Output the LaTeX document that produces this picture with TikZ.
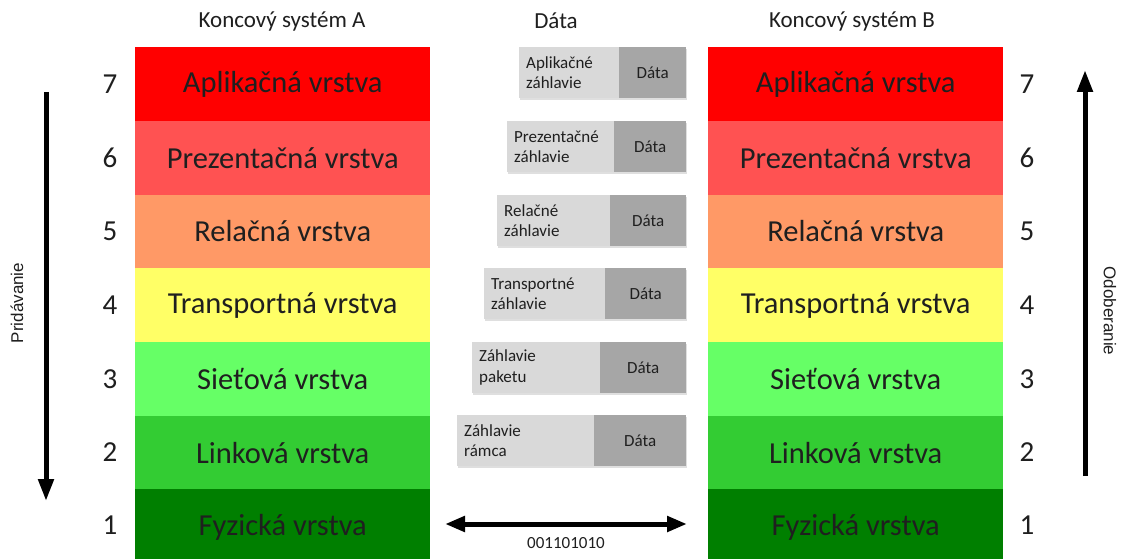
\documentclass[tikz,border=0pt]{standalone}
\usepackage{fontspec}
\setmainfont{Carlito}
\newfontfamily\sidefont{Liberation Sans}
\usetikzlibrary{arrows.meta,shadows}
\definecolor{c7}{HTML}{FF0000}
\definecolor{c6}{HTML}{FF5252}
\definecolor{c5}{HTML}{FF9966}
\definecolor{c4}{HTML}{FFFF66}
\definecolor{c3}{HTML}{66FF66}
\definecolor{c2}{HTML}{33CC33}
\definecolor{c1}{HTML}{007F00}
\definecolor{hlight}{HTML}{D9D9D9}
\definecolor{hdark}{HTML}{A6A6A6}
\definecolor{txt}{HTML}{1F1F1F}
\tikzset{
  layer/.style={minimum width=295pt, minimum height=73.7pt, inner sep=0pt, anchor=north west, font=\fontsize{30.5}{34}\selectfont, text=txt},
  num/.style={font=\fontsize{29}{33}\selectfont, text=txt},
  title/.style={font=\fontsize{23}{27}\selectfont, text=txt},
  hlightbox/.style={fill=hlight, anchor=north west, minimum height=51pt, inner xsep=7pt, inner ysep=0pt, align=left, font=\fontsize{17}{20.5}\selectfont, text=txt, drop shadow={opacity=0.25, shadow xshift=1pt, shadow yshift=-1.5pt}},
  hdarkbox/.style={fill=hdark, anchor=north west, minimum height=51pt, inner sep=0pt, font=\fontsize{17}{20}\selectfont, text=txt, drop shadow={opacity=0.25, shadow xshift=1pt, shadow yshift=-1.5pt}},
  sidelabel/.style={font=\sidefont\fontsize{17}{20}\selectfont, text=txt},
  bitlabel/.style={font=\fontsize{17}{20}\selectfont, text=txt},
  bigarrow/.style={line width=5pt, -{Triangle[length=22pt, width=15pt]}},
  dblarrow/.style={line width=5pt, {Triangle[length=20pt, width=15pt]}-{Triangle[length=20pt, width=15pt]}}
}
\begin{document}
\begin{tikzpicture}[x=1pt, y=-1pt]
\useasboundingbox (0,0) rectangle (1122,559);
\fill[white] (0,0) rectangle (1122,559);
% titles
\node[title] (tA) at (282,21) {Koncový systém A};
\node[title] (tD) at (556,21) {Dáta};
\node[title] (tB) at (852,21) {Koncový systém B};
% left stack
\node[layer, fill=c7] (L7) at (135,47) {Aplikačná vrstva};
\node[layer, fill=c6] (L6) at (135,120.7) {Prezentačná vrstva};
\node[layer, fill=c5] (L5) at (135,194.4) {Relačná vrstva};
\node[layer, fill=c4] (L4) at (135,268.1) {Transportná vrstva};
\node[layer, fill=c3] (L3) at (135,341.8) {Sieťová vrstva};
\node[layer, fill=c2] (L2) at (135,415.5) {Linková vrstva};
\node[layer, fill=c1, minimum height=75pt] (L1) at (135,489.2) {Fyzická vrstva};
% right stack
\node[layer, fill=c7] (R7) at (708,47) {Aplikačná vrstva};
\node[layer, fill=c6] (R6) at (708,120.7) {Prezentačná vrstva};
\node[layer, fill=c5] (R5) at (708,194.4) {Relačná vrstva};
\node[layer, fill=c4] (R4) at (708,268.1) {Transportná vrstva};
\node[layer, fill=c3] (R3) at (708,341.8) {Sieťová vrstva};
\node[layer, fill=c2] (R2) at (708,415.5) {Linková vrstva};
\node[layer, fill=c1, minimum height=75pt] (R1) at (708,489.2) {Fyzická vrstva};
% numbers
\foreach \i/\y in {7/84,6/158,5/231,4/305,3/379,2/452,1/525}{
  \node[num] (nl\i) at (110,\y) {\i};
  \node[num] (nr\i) at (1027,\y) {\i};
}
% header boxes
\node[hlightbox, minimum width=100pt, text width=86pt] (H7) at (519,47) {Aplikačné\\záhlavie};
\node[hdarkbox, minimum width=67pt] (D7) at (619,47) {Dáta};
\node[hlightbox, minimum width=107pt, text width=93pt] (H6) at (507,121) {Prezentačné\\záhlavie};
\node[hdarkbox, minimum width=72pt] (D6) at (614,121) {Dáta};
\node[hlightbox, minimum width=113pt, text width=99pt] (H5) at (497,195) {Relačné\\záhlavie};
\node[hdarkbox, minimum width=76pt] (D5) at (610,195) {Dáta};
\node[hlightbox, minimum width=121pt, text width=107pt] (H4) at (484,268) {Transportné\\záhlavie};
\node[hdarkbox, minimum width=81pt] (D4) at (605,268) {Dáta};
\node[hlightbox, minimum width=128pt, text width=114pt] (H3) at (472,342) {Záhlavie\\paketu};
\node[hdarkbox, minimum width=86pt] (D3) at (600,342) {Dáta};
\node[hlightbox, minimum width=137pt, text width=123pt] (H2) at (457,415) {Záhlavie\\rámca};
\node[hdarkbox, minimum width=92pt] (D2) at (594,415) {Dáta};
% physical link
\coordinate (pa) at (445,524);
\coordinate (pb) at (687,524);
\draw[dblarrow] (pa) -- (pb);
\node[bitlabel] (bits) at (566,543) {001101010};
% side arrows
\coordinate (la1) at (46,92);
\coordinate (la2) at (46,501);
\draw[bigarrow] (la1) -- (la2);
\node[sidelabel, rotate=90] (pridavanie) at (17,303) {Pridávanie};
\coordinate (ra1) at (1085,476);
\coordinate (ra2) at (1085,70);
\draw[bigarrow] (ra1) -- (ra2);
\node[sidelabel, rotate=-90] (odoberanie) at (1110,311) {Odoberanie};
\end{tikzpicture}
\end{document}
